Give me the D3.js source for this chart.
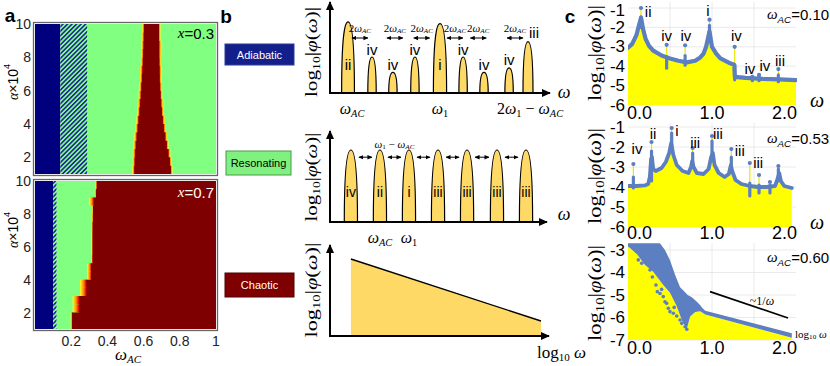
<!DOCTYPE html>
<html><head><meta charset="utf-8">
<script src="https://cdnjs.cloudflare.com/ajax/libs/d3/7.8.5/d3.min.js"></script>
<style>body{margin:0;background:#fff}svg{display:block}</style>
</head><body><svg id="fig" width="830" height="366"></svg>
<script>
// ================= DATA =================
// Panel a : phase diagrams (alpha x 1e4 vs omega_AC)
const alphaTicks = [2, 4, 6, 8, 10];
const omegaTicks = [0.2, 0.4, 0.6, 0.8, 1];
const omegaTickLabels = ["0.2", "0.4", "0.6", "0.8", "1"];
const xValues = ["0.3", "0.7"];
const adiabaticEnd = [0.14, 0.10];
const transitionEnd = [0.29, 0.12];
const rowAlpha = [1, 1.5, 2, 2.5, 3, 3.5, 4, 4.5, 5, 5.5, 6, 6.5, 7, 7.5, 8, 8.5, 9, 9.5];
const from03  = [0.537,0.540,0.540,0.545,0.548,0.556,0.560,0.566,0.568,0.573,0.576,0.580,0.580,0.585,0.586,0.588,0.590,0.592];
const left03  = [0.549,0.551,0.554,0.557,0.562,0.567,0.572,0.577,0.581,0.585,0.588,0.591,0.594,0.596,0.598,0.600,0.601,0.602];
const right03 = [0.751,0.745,0.737,0.728,0.720,0.712,0.706,0.701,0.697,0.694,0.691,0.689,0.688,0.687,0.686,0.686,0.685,0.685];
const to03    = [0.760,0.755,0.748,0.738,0.730,0.724,0.718,0.712,0.708,0.703,0.702,0.698,0.700,0.696,0.697,0.698,0.694,0.694];
const from07  = [0.197,0.197,0.208,0.208,0.249,0.249,0.289,0.289,0.310,0.312,0.312,0.312,0.314,0.314,0.316,0.300,0.330,0.335];
const left07  = [0.205,0.205,0.245,0.245,0.285,0.285,0.310,0.310,0.318,0.318,0.318,0.318,0.318,0.320,0.320,0.325,0.337,0.341];
const right07 = [1,1,1,1,1,1,1,1,1,1,1,1,1,1,1,1,1,1];
const to07    = [1,1,1,1,1,1,1,1,1,1,1,1,1,1,1,1,1,1];

// Panel b : schematic spectra
const regimeLabels = ["Adiabatic", "Resonating", "Chaotic"];
const adiaPeakPos    = [0.082, 0.191, 0.286, 0.386, 0.500, 0.605, 0.700, 0.814, 0.900];
const adiaPeakHeight = [0.79, 0.40, 0.23, 0.40, 0.77, 0.40, 0.23, 0.28, 0.57];
const adiaPeakKind   = ["ii", "iv", "iv", "iv", "i", "iv", "iv", "iv", "iii"];
const adiaSpacingPos = [0.136, 0.295, 0.417, 0.568, 0.674, 0.841];
const resPeakPos     = [0.095, 0.227, 0.359, 0.491, 0.623, 0.759, 0.891];
const resPeakHeight  = [0.80, 0.80, 0.80, 0.80, 0.80, 0.80, 0.80];
const resPeakKind    = ["iv", "ii", "i", "iii", "iii", "iii", "iii"];
const chaosLineX = [0.095, 0.959];
const chaosLineY = [0.856, 0.167];

// Panel c : computed spectra
const omegaAC = ["0.10", "0.53", "0.60"];
const cTicksX = [0, 1, 2];
const cTickLabelsX = ["0.0", "1.0", "2.0"];
const spec1Omega = [0.0,0.05,0.1,0.13,0.155,0.18,0.21,0.25,0.3,0.4,0.5,0.6,0.7,0.8,0.86,0.9,0.93,0.955,0.97,0.985,1.0,1.05,1.1,1.2,1.265,1.272,1.4,1.6,1.8,2.0];
const spec1Value = [-3.05,-2.85,-2.4,-1.9,-1.5,-2.1,-2.6,-2.95,-3.2,-3.45,-3.6,-3.72,-3.8,-3.72,-3.55,-3.35,-3.0,-2.5,-2.2,-2.6,-3.0,-3.35,-3.6,-3.82,-3.92,-4.55,-4.6,-4.65,-4.68,-4.72];
// spikes: [omega, low, dense top, top dot]
const spec1Spikes = [[0.155,-2.0,-1.45,-1.0],[0.46,-4.1,-3.5,-2.9],[0.68,-3.95,-3.45,-2.92],[0.97,-2.4,-1.9,-1.6],[1.27,-4.7,-3.95,-3.0],[1.48,-4.75,-4.6,-4.55],[1.56,-4.75,-4.5,-4.45],[1.79,-4.8,-4.45,-4.15]];
const spec1Labels = ["ii","iv","iv","i","iv","iv","iv","iii"];
const spec1LabelW = [0.24,0.46,0.69,0.95,1.29,1.45,1.63,1.81];
const spec1LabelV = [-1.2,-2.41,-2.41,-1.12,-2.41,-4.13,-3.98,-3.73];

const spec2Omega = [0,0.1,0.2,0.24,0.26,0.275,0.285,0.3,0.33,0.4,0.45,0.49,0.515,0.54,0.58,0.65,0.72,0.75,0.765,0.78,0.82,0.9,0.96,0.99,1.01,1.03,1.08,1.15,1.2,1.225,1.24,1.28,1.35,1.45,1.55,1.65,1.75,1.78,1.8,1.82,1.86,1.95];
const spec2Value = [-3.95,-3.95,-3.92,-3.85,-3.5,-2.6,-2.5,-3.1,-3.2,-3.05,-2.75,-2.3,-1.8,-2.4,-2.9,-3.2,-3.3,-3.0,-2.7,-3.0,-3.3,-3.35,-3.1,-2.5,-2.3,-2.9,-3.3,-3.5,-3.35,-2.9,-3.2,-3.65,-3.85,-3.95,-4.0,-4.0,-3.95,-3.6,-3.3,-3.7,-3.95,-4.05];
const spec2Spikes = [[0.064,-4.05,-3.5,-2.85],[0.28,-3.7,-2.2,-1.75],[0.52,-2.0,-1.3,-1.05],[0.77,-3.0,-2.3,-2.05],[1.0,-2.6,-1.7,-1.45],[1.23,-3.2,-2.5,-2.1],[1.45,-4.45,-3.8,-2.8],[1.56,-4.3,-3.9,-3.4],[1.69,-4.3,-3.9,-3.75],[1.79,-3.7,-3.1,-2.95]];
const spec2Labels = ["iv","ii","i","iii","iii","iii","iii"];
const spec2LabelW = [0.107,0.298,0.583,0.80,1.07,1.33,1.55];
const spec2LabelV = [-2.07,-1.32,-1.17,-1.77,-1.32,-2.17,-2.77];

const chaosUpperW = [0.0,0.38,0.44,0.5,0.56,0.62,0.66,0.71,0.76,0.82,0.86,0.89,0.92,1.95];
const chaosUpperV = [-2.7,-2.7,-3.0,-3.45,-4.1,-4.65,-4.8,-5.0,-5.1,-5.3,-5.45,-5.6,-5.7,-6.7];
const chaosLowerW = [0.0,0.02,0.11,0.2,0.3,0.42,0.5,0.58,0.65,0.7,0.74,0.8,0.86,0.92,1.95];
const chaosLowerV = [-2.85,-2.9,-3.2,-3.65,-3.97,-4.55,-4.9,-5.5,-6.2,-6.5,-5.95,-5.75,-5.72,-5.87,-6.9];
const chaosDotW = [0.123,0.163,0.262,0.333,0.349,0.381,0.42,0.44,0.46,0.48,0.5,0.54,0.58,0.62,0.64,0.68,0.70,0.29,0.40,0.55];
const chaosDotV = [-3.44,-3.59,-3.89,-4.56,-4.85,-4.93,-5.07,-5.3,-5.37,-5.59,-5.74,-5.81,-5.93,-6.11,-6.26,-6.41,-6.52,-4.2,-4.75,-5.55];
const slopeW = [0.976, 1.905];
const slopeV = [-4.85, -6.02];

// ================= STYLE =================
const SANS = "'Liberation Sans', Arial, sans-serif";
const SERIF = "'Liberation Serif', 'DejaVu Serif', serif";
const NAVY = "#00007f", GREEN = "#80ff80", DARKRED = "#7f0000";
const PEAK = "#ffd966", BLUE = "#5b7fc0", YELLOW = "#ffff00";

const svg = d3.select("#fig");
svg.append("rect").attr("width", 830).attr("height", 366).attr("fill", "#fff");
const defs = svg.append("defs");
const pat = defs.append("pattern").attr("id", "hatch").attr("patternUnits", "userSpaceOnUse")
  .attr("width", 3.2).attr("height", 3.2).attr("patternTransform", "rotate(45)");
pat.append("rect").attr("width", 3.2).attr("height", 3.2).attr("fill", GREEN);
pat.append("rect").attr("width", 1.5).attr("height", 3.2).attr("fill", "#1a1aa0");
function grad(id, stops) {
  const g = defs.append("linearGradient").attr("id", id);
  stops.forEach(s => g.append("stop").attr("offset", s[0]).attr("stop-color", s[1]));
}
grad("edgeL", [[0, "#ffff30"], [0.45, "#ff9000"], [0.8, "#e00000"], [1, "#a00000"]]);
grad("edgeR", [[0, "#a00000"], [0.2, "#e00000"], [0.55, "#ff9000"], [1, "#ffff30"]]);
defs.append("marker").attr("id", "axArrow").attr("viewBox", "0 0 10 10").attr("refX", 9).attr("refY", 5)
  .attr("markerWidth", 9).attr("markerHeight", 9).attr("markerUnits", "userSpaceOnUse").attr("orient", "auto")
  .append("path").attr("d", "M0,0.5 L10,5 L0,9.5 z").attr("fill", "#000");
defs.append("marker").attr("id", "smArrow").attr("viewBox", "0 0 10 10").attr("refX", 9).attr("refY", 5)
  .attr("markerWidth", 5).attr("markerHeight", 5).attr("markerUnits", "userSpaceOnUse").attr("orient", "auto-start-reverse")
  .append("path").attr("d", "M0,0.5 L10,5 L0,9.5 z").attr("fill", "#000");

function rich(g, x, y, parts, o) {
  const t = g.append("text").attr("x", x).attr("y", y).attr("font-size", o.size)
    .attr("font-family", o.family || SERIF).attr("text-anchor", o.anchor || "middle")
    .attr("fill", o.fill || "#000").attr("dominant-baseline", "central");
  if (o.rotate) t.attr("transform", `rotate(${o.rotate},${x},${y})`);
  let shift = 0;
  parts.forEach(p => {
    const target = p.sub ? o.size * 0.3 : p.sup ? -o.size * 0.4 : 0;
    const ts = t.append("tspan").text(p.t).attr("dy", target - shift);
    shift = target;
    if (p.sub || p.sup) ts.attr("font-size", o.size * 0.65);
    if (p.it) ts.attr("font-style", "italic");
    if (p.family) ts.attr("font-family", p.family);
  });
  if (o.len) t.attr("textLength", o.len).attr("lengthAdjust", "spacingAndGlyphs");
  return t;
}
const LOGPHI = [{t: "log"}, {t: "10", sub: true}, {t: "|"}, {t: "φ", it: true}, {t: "("}, {t: "ω", it: true}, {t: ")|"}];
const WAC = [{t: "ω", it: true}, {t: "AC", sub: true, it: true}];
function plain(g, x, y, s, o) {
  return g.append("text").attr("x", x).attr("y", y).text(s).attr("font-size", o.size)
    .attr("font-family", o.family || SANS).attr("text-anchor", o.anchor || "middle")
    .attr("dominant-baseline", "central").attr("fill", o.fill || "#000")
    .attr("font-weight", o.weight || "normal");
}

// panel letters
plain(svg, 10, 15, "a", {size: 19, weight: "bold"});
plain(svg, 226, 16, "b", {size: 19, weight: "bold"});
plain(svg, 570, 16, "c", {size: 19, weight: "bold"});

// ================= PANEL A =================
const xa = d3.scaleLinear().domain([0, 1]).range([35, 216]);
const aPlots = [
  {y: d3.scaleLinear().domain([1, 10]).range([174, 24]), from: from03, left: left03, right: right03, to: to03,
   ad: adiabaticEnd[0], tr: transitionEnd[0], lab: xValues[0], labColor: "#000", labY: 33, alY: 82},
  {y: d3.scaleLinear().domain([1, 10]).range([329, 181]), from: from07, left: left07, right: right07, to: to07,
   ad: adiabaticEnd[1], tr: transitionEnd[1], lab: xValues[1], labColor: "#fff", labY: 192, alY: 230}
];
aPlots.forEach((p, k) => {
  const g = svg.append("g");
  const yTop = p.y(10), yBot = p.y(1);
  g.append("rect").attr("x", xa(0)).attr("y", yTop).attr("width", xa(p.ad) - xa(0)).attr("height", yBot - yTop).attr("fill", NAVY);
  g.append("rect").attr("x", xa(p.ad)).attr("y", yTop).attr("width", xa(p.tr) - xa(p.ad)).attr("height", yBot - yTop).attr("fill", "url(#hatch)");
  g.append("rect").attr("x", xa(p.tr)).attr("y", yTop).attr("width", xa(1) - xa(p.tr)).attr("height", yBot - yTop).attr("fill", GREEN);
  rowAlpha.forEach((a, i) => {
    const yt = p.y(a + 0.5), yb = p.y(a);
    g.append("rect").attr("x", xa(p.from[i])).attr("y", yt).attr("width", xa(p.left[i]) - xa(p.from[i]) + 1).attr("height", yb - yt).attr("fill", "url(#edgeL)");
    if (p.to[i] > p.right[i])
      g.append("rect").attr("x", xa(p.right[i]) - 1).attr("y", yt).attr("width", xa(p.to[i]) - xa(p.right[i]) + 1).attr("height", yb - yt).attr("fill", "url(#edgeR)");
  });
  const poly = [];
  rowAlpha.forEach((a, i) => { poly.push([p.left[i], a]); poly.push([p.left[i], a + 0.5]); });
  for (let i = rowAlpha.length - 1; i >= 0; i--) { poly.push([p.right[i], rowAlpha[i] + 0.5]); poly.push([p.right[i], rowAlpha[i]]); }
  g.append("path").attr("d", d3.line().x(d => xa(d[0])).y(d => p.y(d[1]))(poly) + "Z").attr("fill", DARKRED);
  g.append("rect").attr("x", xa(0) - 1.5).attr("y", yTop - 1.5).attr("width", xa(1) - xa(0) + 3).attr("height", yBot - yTop + 3)
    .attr("fill", "none").attr("stroke", "#666").attr("stroke-width", 1.3);
  alphaTicks.forEach(v => plain(g, 31, p.y(v), String(v), {size: 14, anchor: "end", fill: "#222"}));
  rich(g, 13, p.alY, [{t: "α", it: true, family: SERIF}, {t: "×10"}, {t: "4", sup: true}], {size: 14, family: SANS, rotate: -90});
  rich(g, 214, p.labY, [{t: "x", it: true, family: SERIF}, {t: "=" + p.lab}], {size: 15, family: SANS, anchor: "end", fill: p.labColor});
  if (k === 1) {
    omegaTicks.forEach((v, j) => plain(g, xa(v), 341, omegaTickLabels[j], {size: 14, fill: "#222"}));
    rich(g, 128, 354, WAC, {size: 17});
  }
});

// ================= PANEL B =================
const xb = d3.scaleLinear().domain([0, 1]).range([330, 550]);
const bPlots = [
  d3.scaleLinear().domain([0, 1]).range([93, 3]),
  d3.scaleLinear().domain([0, 1]).range([222, 132]),
  d3.scaleLinear().domain([0, 1]).range([336, 246])
];
const boxes = [
  {y: 44, h: 21, x: 225, w: 69, fill: "#13208c", stroke: "#2d3b94", text: "#fff"},
  {y: 151, h: 24, x: 226, w: 65, fill: "#80f080", stroke: "#4a9a4a", text: "#000"},
  {y: 273, h: 24, x: 225, w: 69, fill: "#7f0000", stroke: "#500000", text: "#fff"}
];
boxes.forEach((b, i) => {
  svg.append("rect").attr("x", b.x).attr("y", b.y).attr("width", b.w).attr("height", b.h)
    .attr("fill", b.fill).attr("stroke", b.stroke).attr("stroke-width", 1);
  plain(svg, b.x + b.w / 2, b.y + b.h / 2, regimeLabels[i], {size: 11, fill: b.text});
});
function axesB(yS, xEnd) {
  svg.append("line").attr("x1", xb(0)).attr("y1", yS(0)).attr("x2", xb(0)).attr("y2", yS(1) - 1)
    .attr("stroke", "#000").attr("stroke-width", 2).attr("marker-end", "url(#axArrow)");
  svg.append("line").attr("x1", xb(0) - 1).attr("y1", yS(0)).attr("x2", xEnd).attr("y2", yS(0))
    .attr("stroke", "#000").attr("stroke-width", 2).attr("marker-end", "url(#axArrow)");
}
function peakPath(cx, base, top, hw) {
  const h = base - top;
  return `M${cx - hw},${base} C${cx - hw},${top + h * 0.22} ${cx - hw * 0.55},${top} ${cx},${top} ` +
         `C${cx + hw * 0.55},${top} ${cx + hw},${top + h * 0.22} ${cx + hw},${base} Z`;
}
const halfW = {ii: 6.4, i: 6.6, iii: 5, iv: 4.2};
{
  const yS = bPlots[0];
  adiaPeakPos.forEach((p, i) => {
    svg.append("path").attr("d", peakPath(xb(p), yS(0), yS(adiaPeakHeight[i]), halfW[adiaPeakKind[i]]))
      .attr("fill", PEAK).attr("stroke", "#000").attr("stroke-width", 1.2);
  });
  axesB(yS, 550);
  adiaPeakPos.forEach((p, i) => {
    const k = adiaPeakKind[i];
    if (k === "ii" || k === "i") plain(svg, xb(p), yS(0.32), k, {size: 15});
    else if (k === "iii") plain(svg, xb(p) + 6, yS(adiaPeakHeight[i]) - 9, k, {size: 15});
    else plain(svg, xb(p), yS(adiaPeakHeight[i]) - 8, k, {size: 15});
  });
  adiaSpacingPos.forEach(p => {
    rich(svg, xb(p), 28, [{t: "2"}, {t: "ω", it: true}, {t: "AC", sub: true, it: true}], {size: 11});
    svg.append("line").attr("x1", xb(p) - 8).attr("x2", xb(p) + 8).attr("y1", 38).attr("y2", 38)
      .attr("stroke", "#000").attr("stroke-width", 1).attr("marker-start", "url(#smArrow)").attr("marker-end", "url(#smArrow)");
  });
  rich(svg, xb(adiaPeakPos[0]) + 4, 108, WAC, {size: 16});
  rich(svg, xb(adiaPeakPos[4]), 108, [{t: "ω", it: true}, {t: "1", sub: true}], {size: 16});
  rich(svg, 497, 108, [{t: "2"}, {t: "ω", it: true}, {t: "1", sub: true}, {t: " − "}, {t: "ω", it: true}, {t: "AC", sub: true, it: true}], {size: 16, anchor: "start"});
  rich(svg, 564, 92, [{t: "ω", it: true}], {size: 18});
  rich(svg, 311, 52, LOGPHI, {size: 17, rotate: -90, len: 90});
}
{
  const yS = bPlots[1];
  resPeakPos.forEach((p, i) => {
    svg.append("path").attr("d", peakPath(xb(p), yS(0), yS(resPeakHeight[i]), 6.6))
      .attr("fill", PEAK).attr("stroke", "#000").attr("stroke-width", 1.2);
  });
  axesB(yS, 547);
  resPeakPos.forEach((p, i) => plain(svg, xb(p), yS(0.33), resPeakKind[i], {size: 14}));
  for (let i = 0; i < resPeakPos.length - 1; i++) {
    svg.append("line").attr("x1", xb(resPeakPos[i]) + 8).attr("x2", xb(resPeakPos[i + 1]) - 8)
      .attr("y1", yS(0.72)).attr("y2", yS(0.72)).attr("stroke", "#000").attr("stroke-width", 1)
      .attr("marker-start", "url(#smArrow)").attr("marker-end", "url(#smArrow)");
  }
  rich(svg, (xb(resPeakPos[1]) + xb(resPeakPos[2])) / 2, 144, [{t: "ω", it: true}, {t: "1", sub: true}, {t: " − "}, {t: "ω", it: true}, {t: "AC", sub: true, it: true}], {size: 11});
  rich(svg, xb(resPeakPos[1]), 237, WAC, {size: 16});
  rich(svg, xb(resPeakPos[2]), 237, [{t: "ω", it: true}, {t: "1", sub: true}], {size: 16});
  rich(svg, 564, 214, [{t: "ω", it: true}], {size: 18});
  rich(svg, 311, 177, LOGPHI, {size: 17, rotate: -90, len: 89});
}
{
  const yS = bPlots[2];
  const pts = [[chaosLineX[0], 0], [chaosLineX[0], chaosLineY[0]], [chaosLineX[1], chaosLineY[1]], [chaosLineX[1], 0]];
  svg.append("path").attr("d", d3.line().x(d => xb(d[0])).y(d => yS(d[1]))(pts) + "Z").attr("fill", PEAK);
  svg.append("line").attr("x1", xb(chaosLineX[0])).attr("y1", yS(chaosLineY[0])).attr("x2", xb(chaosLineX[1])).attr("y2", yS(chaosLineY[1]))
    .attr("stroke", "#000").attr("stroke-width", 1.4);
  axesB(yS, 549);
  rich(svg, 537, 352, [{t: "log"}, {t: "10", sub: true}, {t: " "}, {t: "ω", it: true}], {size: 17, anchor: "start"});
  rich(svg, 311, 290, LOGPHI, {size: 17, rotate: -90, len: 95});
}

// ================= PANEL C =================
const xc = d3.scaleLinear().domain([0, 2]).range([628, 796]);
const cPlots = [
  {y: d3.scaleLinear().domain([-6, -1]).range([105, 8]), top: 2, bottom: -6, ticks: [-1, -2, -3, -4, -5, -6], xlabY: 113, labY: 53, acY: 14},
  {y: d3.scaleLinear().domain([-6, -1]).range([227, 127]), top: 123, bottom: -6, ticks: [-1, -2, -3, -4, -5, -6], xlabY: 233, labY: 176, acY: 138},
  {y: d3.scaleLinear().domain([-7, -3]).range([340, 250]), top: 243, bottom: -7, ticks: [-3, -4, -5, -6, -7], xlabY: 348, labY: 293, acY: 257}
];
cPlots.forEach((p, k) => {
  const g = svg.append("g");
  const yB = p.y(p.bottom);
  defs.append("clipPath").attr("id", "clipc" + k).append("rect")
    .attr("x", xc(0)).attr("y", p.top).attr("width", xc(2) - xc(0) + 1).attr("height", yB - p.top);
  [0.5, 1, 1.5].forEach(v => g.append("line").attr("x1", xc(v)).attr("x2", xc(v)).attr("y1", p.top).attr("y2", yB).attr("stroke", "#e4e4e4").attr("stroke-width", 0.8));
  p.ticks.forEach(v => g.append("line").attr("x1", xc(0)).attr("x2", xc(2)).attr("y1", p.y(v)).attr("y2", p.y(v)).attr("stroke", "#e4e4e4").attr("stroke-width", 0.8));
  const pg = g.append("g").attr("clip-path", `url(#clipc${k})`);
  if (k < 2) {
    const W = k === 0 ? spec1Omega : spec2Omega, V = k === 0 ? spec1Value : spec2Value;
    const spikes = k === 0 ? spec1Spikes : spec2Spikes;
    const data = W.map((w, i) => [w, V[i]]);
    pg.append("path").attr("d", d3.area().x(d => xc(d[0])).y0(yB).y1(d => p.y(d[1]))(data)).attr("fill", YELLOW);
    spikes.forEach(s => {
      pg.append("line").attr("x1", xc(s[0])).attr("x2", xc(s[0])).attr("y1", p.y(s[1])).attr("y2", p.y(s[3]))
        .attr("stroke", "#e6e600").attr("stroke-width", 1.2);
    });
    pg.append("path").attr("d", d3.line().x(d => xc(d[0])).y(d => p.y(d[1]))(data))
      .attr("fill", "none").attr("stroke", BLUE).attr("stroke-width", k === 0 ? 4.2 : 3.8).attr("stroke-linejoin", "round").attr("stroke-linecap", "round");
    spikes.forEach(s => {
      pg.append("line").attr("x1", xc(s[0])).attr("x2", xc(s[0])).attr("y1", p.y(s[1])).attr("y2", p.y(s[2]))
        .attr("stroke", BLUE).attr("stroke-width", 3.2).attr("stroke-linecap", "round");
      pg.append("circle").attr("cx", xc(s[0])).attr("cy", p.y(s[3])).attr("r", 2.1).attr("fill", BLUE);
    });
    const labs = k === 0 ? spec1Labels : spec2Labels;
    const LW = k === 0 ? spec1LabelW : spec2LabelW, LV = k === 0 ? spec1LabelV : spec2LabelV;
    labs.forEach((s, i) => plain(g, xc(LW[i]), p.y(LV[i]), s, {size: 15}));
  } else {
    const upper = chaosUpperW.map((w, i) => [w, chaosUpperV[i]]);
    const lower = chaosLowerW.map((w, i) => [w, chaosLowerV[i]]);
    const ln = d3.line().x(d => xc(d[0])).y(d => p.y(d[1]));
    pg.append("path").attr("d", d3.area().x(d => xc(d[0])).y0(yB).y1(d => p.y(d[1]))(lower)).attr("fill", YELLOW);
    pg.append("path").attr("d", ln(upper) + "L" + ln(lower.slice().reverse()).slice(1) + "Z").attr("fill", BLUE);
    chaosDotW.forEach((w, i) => pg.append("circle").attr("cx", xc(w)).attr("cy", p.y(chaosDotV[i])).attr("r", 1.8).attr("fill", BLUE));
    g.append("line").attr("x1", xc(slopeW[0])).attr("y1", p.y(slopeV[0])).attr("x2", xc(slopeW[1])).attr("y2", p.y(slopeV[1]))
      .attr("stroke", "#000").attr("stroke-width", 1.6);
    rich(g, 762, 301, [{t: "~1/"}, {t: "ω", it: true}], {size: 12});
    rich(g, 795, 334, [{t: "log"}, {t: "10", sub: true}, {t: " "}, {t: "ω", it: true}], {size: 11, anchor: "start"});
  }
  p.ticks.forEach(v => plain(g, 625, Math.max(p.y(v), 10), "-" + Math.abs(v), {size: 17, anchor: "end"}));
  cTicksX.forEach((v, j) => plain(g, xc(v) + (j === 0 ? -1 : j === 2 ? 1 : 0), p.xlabY, cTickLabelsX[j],
    {size: 18, anchor: j === 0 ? "start" : j === 2 ? "end" : "middle"}));
  rich(g, 595, p.labY, LOGPHI, {size: 18, rotate: -90, len: 96});
  rich(g, 767, p.acY, [{t: "ω", it: true, family: SERIF}, {t: "AC", sub: true, it: true}, {t: "=" + omegaAC[k]}], {size: 15, family: SANS, anchor: "start"});
  if (k < 2) rich(g, 817, k === 0 ? 100 : 222, [{t: "ω", it: true}], {size: 20});
});
</script></body></html>
